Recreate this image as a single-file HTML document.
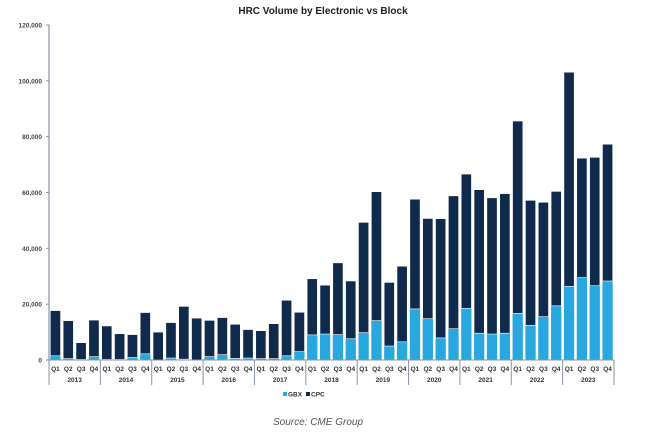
<!DOCTYPE html>
<html><head><meta charset="utf-8"><style>
html,body{margin:0;padding:0;background:#fff;}
svg{display:block;font-family:"Liberation Sans",Arial,sans-serif;}
</style></head><body>
<svg id="chart" width="647" height="432">
<text x="323" y="14" text-anchor="middle" font-size="10" font-weight="bold" fill="#222">HRC Volume by Electronic vs Block</text>
<g id="plot"></g>
<g>
<rect x="283" y="392" width="4" height="4" fill="#29a8e0"/>
<text x="288" y="396.5" font-size="6.5" font-weight="bold" fill="#333">GBX</text>
<rect x="306" y="392" width="4" height="4" fill="#0f2a4a"/>
<text x="311" y="396.5" font-size="6.5" font-weight="bold" fill="#333">CPC</text>
</g>
<text x="318" y="425" text-anchor="middle" font-size="10" font-style="italic" fill="#555">Source: CME Group</text>
</svg>
<script>
const years = ["2013","2014","2015","2016","2017","2018","2019","2020","2021","2022","2023"];
const quarters = ["Q1","Q2","Q3","Q4"];
const totals = [17.7,14.1,6.2,14.3, 12.2,9.4,9.1,17.0, 10.0,13.4,19.2,15.0, 14.2,15.2,12.8,10.9, 10.5,13.0,21.4,17.1, 29.1,26.8,34.8,28.3, 49.3,60.3,27.8,33.6, 57.6,50.7,50.6,58.8, 66.6,61.0,58.1,59.6, 85.6,57.2,56.5,60.4, 103.1,72.3,72.6,77.3];
const gbx = [1.5,0.5,0.2,1.2, 0.2,0.2,0.9,2.2, 0,0.7,0.3,0, 1.2,1.9,0.6,0.7, 0.5,0.5,1.5,3.0, 9.0,9.3,9.1,7.6, 9.8,14.1,5.0,6.5, 18.3,14.8,7.9,11.2, 18.5,9.6,9.3,9.6, 16.7,12.4,15.5,19.4, 26.4,29.5,26.6,28.3];
const cpc = totals.map((t,i)=>t-gbx[i]);
const yTicks = [0,20,40,60,80,100,120];
const yTickLabels = ["0","20,000","40,000","60,000","80,000","100,000","120,000"];

const NS="http://www.w3.org/2000/svg";
const g=document.getElementById('plot');
const x0=49, x1=614, y0=360, yTop=25;
const n=gbx.length, pitch=(x1-x0)/n, bw=pitch*0.8;
const y=v=>y0-(v/120)*(y0-yTop);
const xc=i=>x0+pitch*(i+0.5);
function mk(tag,attrs){const e=document.createElementNS(NS,tag);for(const k in attrs)e.setAttribute(k,attrs[k]);g.appendChild(e);return e;}
yTicks.forEach((t,i)=>{
  const e=mk('text',{x:42,y:y(t)+2.5,'text-anchor':'end','font-size':6.5,'font-weight':'bold',fill:'#444'});
  e.textContent=yTickLabels[i];
  
  
  const tk=mk('line',{x1:x0-3,x2:x0,y1:y(t),y2:y(t),stroke:'#8a95a3','stroke-width':1});
  
  
});
gbx.forEach((v,i)=>{
  const b=mk('rect',{x:xc(i)-bw/2,y:y(v),width:bw,height:y(0)-y(v),fill:'#29a8e0'});
  
  
  const c=mk('rect',{x:xc(i)-bw/2,y:y(v+cpc[i]),width:bw,height:y(v)-y(v+cpc[i]),fill:'#0f2a4a',stroke:'#fff','stroke-width':0.6});
  
  
  const q=mk('text',{x:xc(i),y:371,'text-anchor':'middle','font-size':6.5,'font-weight':'bold',fill:'#333'});
  q.textContent=quarters[i%4];
  
  
});
years.forEach((yr,j)=>{
  const xs=x0+pitch*4*j;
  const l=mk('line',{x1:xs,x2:xs,y1:y0,y2:385,stroke:'#8a95a3','stroke-width':1});
  
  
  const t=mk('text',{x:xs+pitch*2,y:382,'text-anchor':'middle','font-size':6.5,'font-weight':'bold',fill:'#333'});
  t.textContent=yr;
  
  
});
const lr=mk('line',{x1:x1,x2:x1,y1:y0,y2:385,stroke:'#8a95a3','stroke-width':1});


const ax=mk('line',{x1:x0,x2:x0,y1:yTop,y2:y0,stroke:'#8a95a3','stroke-width':1.2});


const xa=mk('line',{x1:x0,x2:x1,y1:y0,y2:y0,stroke:'#8a95a3','stroke-width':1});


</script>
</body></html>
